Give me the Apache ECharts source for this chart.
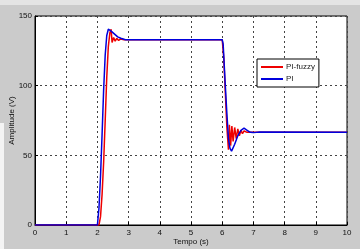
<!DOCTYPE html>
<html>
<head>
<meta charset="utf-8">
<script src="https://cdn.jsdelivr.net/npm/echarts@6/dist/echarts.min.js"></script>
<style>
html,body{margin:0;padding:0;background:#cbcbcb;}
#c{width:360px;height:249px;}
</style>
</head>
<body>
<div id="c"></div>
<script>
var seriesNames = ['PI-fuzzy', 'PI'];
var xTicks = [0,1,2,3,4,5,6,7,8,9,10];
var yTicks = [0,50,100,150];

var tFuzzy = [0, 2.05, 2.1, 2.15, 2.2, 2.25, 2.3, 2.35, 2.4, 2.44, 2.47, 2.52, 2.57, 2.62, 2.68, 2.75, 2.85, 3.0, 6.0, 6.05, 6.1, 6.15, 6.2, 6.23, 6.27, 6.31, 6.35, 6.4, 6.45, 6.5, 6.55, 6.6, 6.65, 6.7, 6.8, 10];
var yFuzzy = [0, 0, 6, 22, 45, 75, 106, 128, 138, 140.5, 131, 134.5, 132, 134, 132.5, 133.5, 133, 133, 133, 120, 95, 70, 54, 72, 57, 71, 60, 70, 62, 69, 64, 68, 65.5, 67.5, 66.5, 66.5];

var tPI = [0, 2.0, 2.05, 2.1, 2.15, 2.2, 2.25, 2.3, 2.35, 2.38, 2.45, 2.55, 2.65, 2.75, 2.9, 3.0, 6.0, 6.03, 6.1, 6.15, 6.2, 6.25, 6.3, 6.35, 6.4, 6.5, 6.6, 6.7, 6.8, 6.9, 7.0, 7.2, 10];
var yPI = [0, 0, 12, 35, 65, 97, 122, 136, 140.5, 141, 139, 137, 135, 134, 133, 133, 133, 130, 100, 80, 62, 55, 53, 54, 58, 64, 68, 69.5, 68, 66.5, 66.3, 66.8, 66.5];

function pairs(t, y){ return t.map(function(v,i){ return [v, y[i]]; }); }

var chart = echarts.init(document.getElementById('c'), null, {renderer:'canvas'});
var font = 'Liberation Sans, Arial, sans-serif';
chart.setOption({
  animation: false,
  backgroundColor: '#cbcbcb',
  graphic: [
    {type:'rect', shape:{x:0,y:0,width:360,height:5}, style:{fill:'#e4e4e4'}, silent:true, z:-10},
    {type:'rect', shape:{x:0,y:123,width:4,height:126}, style:{fill:'#f4f4f4'}, silent:true, z:-10}
  ],
  grid: {left:35, right:13, top:16, bottom:24, outerBoundsMode:'none', containLabel:false, show:true, backgroundColor:'#ffffff', borderColor:'#000', borderWidth:1},
  legend: {
    data: seriesNames, orient:'vertical', left:257, top:59,
    backgroundColor:'#ffffff', borderColor:'#000', borderWidth:1,
    padding:[4,4,4,4], itemGap:4, itemWidth:22, itemHeight:2, icon:'rect',
    textStyle:{fontFamily:font, fontSize:8, color:'#222', padding:[0,6,0,-2]}
  },
  xAxis: {
    type:'value', min:0, max:10, interval:1,
    name:'Tempo (s)', nameLocation:'middle', nameGap:13, nameMoveOverlap:false,
    nameTextStyle:{fontFamily:font, fontSize:8, color:'#111'},
    axisLine:{lineStyle:{color:'#000'}},
    axisTick:{inside:true, length:3, lineStyle:{color:'#000'}},
    axisLabel:{fontFamily:font, fontSize:8, color:'#111', margin:4},
    splitLine:{show:true, lineStyle:{color:'#444', type:[2,3], width:1}}
  },
  yAxis: {
    type:'value', min:0, max:150, interval:50,
    name:'Amplitude (V)', nameLocation:'middle', nameGap:19, nameRotate:90, nameMoveOverlap:false,
    nameTextStyle:{fontFamily:font, fontSize:8, color:'#111'},
    axisLine:{show:true, lineStyle:{color:'#000'}},
    axisTick:{show:true, inside:true, length:3, lineStyle:{color:'#000'}},
    axisLabel:{fontFamily:font, fontSize:8, color:'#111', margin:3},
    splitLine:{show:true, lineStyle:{color:'#444', type:[2,3], width:1}}
  },
  series: [
    {name:seriesNames[0], type:'line', data:pairs(tFuzzy, yFuzzy), showSymbol:false, symbol:'none',
     lineStyle:{color:'#ee0000', width:1.5}, itemStyle:{color:'#ee0000'}},
    {name:seriesNames[1], type:'line', data:pairs(tPI, yPI), showSymbol:false, symbol:'none',
     lineStyle:{color:'#0000dd', width:1.5}, itemStyle:{color:'#0000dd'}}
  ]
});
</script>
</body>
</html>
